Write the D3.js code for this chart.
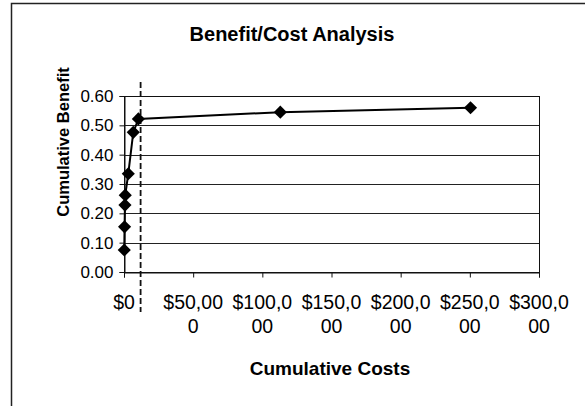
<!DOCTYPE html>
<html>
<head>
<meta charset="utf-8">
<script src="https://cdn.jsdelivr.net/npm/d3@7"></script>
<style>
  html, body { margin: 0; padding: 0; background: #fff; }
  svg { display: block; font-family: "Liberation Sans", Arial, sans-serif; }
</style>
</head>
<body>
<svg id="chart" width="585" height="406"></svg>
<script>
// Cumulative cost (USD) and cumulative benefit for each funded option
const costs    = [200, 400, 700, 900, 3100, 6700, 10400, 113000, 250500];
const benefits = [0.075, 0.154, 0.228, 0.262, 0.335, 0.476, 0.522, 0.545, 0.560];

// Cut-off marker on the cost axis
const cutoffCost = [12000];

// Axis ticks
const xTicks = [0, 50000, 100000, 150000, 200000, 250000, 300000];
const xTickLabels = [["$0"], ["$50,00", "0"], ["$100,0", "00"], ["$150,0", "00"], ["$200,0", "00"], ["$250,0", "00"], ["$300,0", "00"]];
const yTicks = [0, 0.1, 0.2, 0.3, 0.4, 0.5, 0.6];

const svg = d3.select("#chart");
const plot = { left: 124, right: 539, top: 96, bottom: 272 };

const x = d3.scaleLinear().domain([0, 300000]).range([plot.left, plot.right]);
const y = d3.scaleLinear().domain([0, 0.6]).range([plot.bottom, plot.top]);

// Outer chart frame (right and bottom edges run past the page)
svg.append("rect")
  .attr("x", 11.5).attr("y", 3.5).attr("width", 600).attr("height", 420)
  .attr("fill", "none").attr("stroke", "#222").attr("stroke-width", 1.5);

// Title
svg.append("text")
  .attr("x", 292).attr("y", 41)
  .attr("text-anchor", "middle")
  .attr("font-size", 20).attr("font-weight", "bold")
  .text("Benefit/Cost Analysis");

// Horizontal gridlines
svg.append("g").selectAll("line").data(yTicks.filter(d => d > 0)).join("line")
  .attr("x1", plot.left).attr("x2", plot.right)
  .attr("y1", d => Math.round(y(d)) + 0.5).attr("y2", d => Math.round(y(d)) + 0.5)
  .attr("stroke", "#222").attr("stroke-width", 1);

// Plot frame
svg.append("rect")
  .attr("x", plot.left + 0.5).attr("y", plot.top + 0.5)
  .attr("width", plot.right - plot.left).attr("height", plot.bottom - plot.top)
  .attr("fill", "none").attr("stroke", "#111").attr("stroke-width", 1);

// Y axis
const yAxis = d3.axisLeft(y).tickValues(yTicks).tickFormat(d3.format(".2f")).tickSize(5).tickPadding(6);
const gy = svg.append("g").attr("transform", `translate(${plot.left + 0.5},0)`).call(yAxis);
gy.select(".domain").attr("stroke", "#111");
gy.selectAll(".tick line").attr("stroke", "#111");
gy.selectAll(".tick text").attr("font-size", 17).attr("fill", "#000")
  .attr("font-family", "'Liberation Sans', Arial, sans-serif");

// X axis
const xAxis = d3.axisBottom(x).tickValues(xTicks).tickFormat(() => "").tickSize(5);
const gx = svg.append("g").attr("transform", `translate(0,${plot.bottom + 0.5})`).call(xAxis);
gx.select(".domain").attr("stroke", "#111");
gx.selectAll(".tick line").attr("stroke", "#111");

// Wrapped tick labels
svg.append("g").selectAll("text").data(xTicks).join("text")
  .attr("x", d => x(d))
  .attr("y", 309)
  .attr("text-anchor", "middle")
  .attr("font-size", 19.5)
  .each(function (d, i) {
    const t = d3.select(this);
    xTickLabels[i].forEach((line, j) => {
      t.append("tspan").attr("x", x(d)).attr("dy", j === 0 ? 0 : 24).text(line);
    });
  });

// Axis titles
svg.append("text")
  .attr("transform", `translate(69,142) rotate(-90)`)
  .attr("text-anchor", "middle")
  .attr("font-size", 16.5).attr("font-weight", "bold")
  .text("Cumulative Benefit");

svg.append("text")
  .attr("x", 330).attr("y", 375)
  .attr("text-anchor", "middle")
  .attr("font-size", 19).attr("font-weight", "bold")
  .text("Cumulative Costs");

// Cut-off marker
svg.append("g").selectAll("line").data(cutoffCost).join("line")
  .attr("x1", d => x(d)).attr("x2", d => x(d))
  .attr("y1", 82).attr("y2", 312)
  .attr("stroke", "#111").attr("stroke-width", 1.8)
  .attr("stroke-dasharray", "6,3");

// Data line and diamond markers
const pts = costs.map((c, i) => [c, benefits[i]]);
svg.append("path")
  .datum(pts)
  .attr("fill", "none").attr("stroke", "#000").attr("stroke-width", 2)
  .attr("d", d3.line().x(d => x(d[0])).y(d => y(d[1])));

svg.append("g").selectAll("path").data(pts).join("path")
  .attr("transform", d => `translate(${x(d[0])},${y(d[1])})`)
  .attr("d", d3.symbol(d3.symbolDiamond2, 110))
  .attr("fill", "#000");
</script>
</body>
</html>
